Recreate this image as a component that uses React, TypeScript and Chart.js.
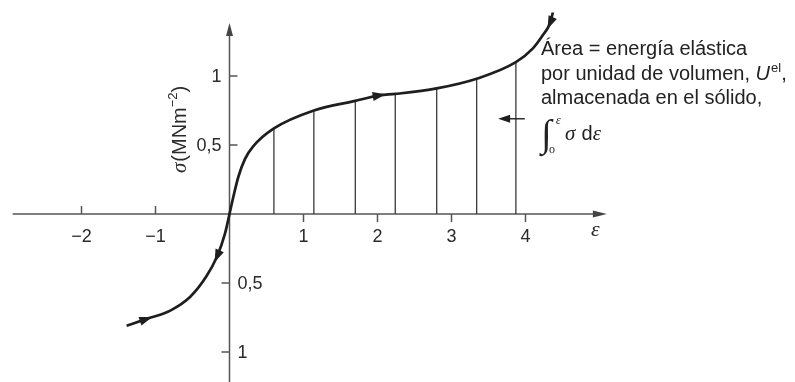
import React, { useEffect, useRef } from "react";
import { Chart, registerables } from "chart.js";

Chart.register(...registerables);

// Stress–strain curve (strain ε, stress σ in MN m⁻²)
const strain = [-1.39, -1.12, -0.8, -0.53, -0.31, -0.17, -0.06, 0, 0.05, 0.12, 0.21, 0.32, 0.6, 1.14, 1.7, 2.03, 2.24, 2.8, 3.34, 3.87, 4.1, 4.24, 4.33, 4.37];
const stress = [-0.81, -0.76, -0.7, -0.6, -0.45, -0.31, -0.14, 0, 0.12, 0.27, 0.4, 0.49, 0.62, 0.75, 0.82, 0.86, 0.87, 0.91, 0.98, 1.1, 1.2, 1.3, 1.38, 1.46];

// Vertical strips filling the area under the curve
const hatchStrain = [0.6, 1.14, 1.7, 2.24, 2.8, 3.34, 3.87];
const hatchStress = [0.62, 0.75, 0.82, 0.87, 0.91, 0.98, 1.1];

// Axis ticks
const xTicks = [-2, -1, 1, 2, 3, 4];
const xTickLabels = ["−2", "−1", "1", "2", "3", "4"];
const yTicks = [1, 0.5, -0.5, -1];
const yTickLabels = ["1", "0,5", "0,5", "1"];

// Direction arrows on the curve: point index and sense (+1 = towards larger strain)
const arrowIndex = [1, 5, 15, 22];
const arrowSense = [1, -1, 1, -1];

// Pointer into the shaded area
const pointerStrain = [3.99, 3.63];
const pointerStress = 0.69;

// Axis extents drawn
const xAxisFrom = -2.93;
const xAxisTo = 5.1;
const yAxisFrom = -1.22;
const yAxisTo = 1.384;

const SANS = "'Liberation Sans', Arial, Helvetica, sans-serif";
const SERIF = "'Liberation Serif', 'Times New Roman', serif";

function head(ctx: CanvasRenderingContext2D, x: number, y: number, ux: number, uy: number, len: number, half: number) {
  const bx = x - ux * len;
  const by = y - uy * len;
  ctx.beginPath();
  ctx.moveTo(x, y);
  ctx.lineTo(bx - uy * half, by + ux * half);
  ctx.lineTo(bx + uy * half, by - ux * half);
  ctx.closePath();
  ctx.fill();
}

const overlay = {
  id: "overlay",
  beforeDatasetsDraw(chart: any) {
    const ctx: CanvasRenderingContext2D = chart.ctx;
    const xs = chart.scales.x;
    const ys = chart.scales.y;
    const x0 = xs.getPixelForValue(0);
    const y0 = ys.getPixelForValue(0);
    ctx.save();
    ctx.strokeStyle = "#555";
    ctx.fillStyle = "#444";
    ctx.lineWidth = 1.5;

    // horizontal axis
    const xl = xs.getPixelForValue(xAxisFrom);
    const xr = xs.getPixelForValue(xAxisTo);
    ctx.beginPath();
    ctx.moveTo(xl, y0);
    ctx.lineTo(xr - 8, y0);
    ctx.stroke();
    head(ctx, xr, y0, 1, 0, 14, 3.5);

    // vertical axis
    const yt = ys.getPixelForValue(yAxisTo);
    const yb = ys.getPixelForValue(yAxisFrom);
    ctx.beginPath();
    ctx.moveTo(x0, yb);
    ctx.lineTo(x0, yt + 8);
    ctx.stroke();
    head(ctx, x0, yt, 0, -1, 13, 3.5);

    // x ticks
    ctx.fillStyle = "#2a2a2a";
    ctx.font = `18px ${SANS}`;
    ctx.textAlign = "center";
    ctx.textBaseline = "alphabetic";
    xTicks.forEach((v, i) => {
      const px = xs.getPixelForValue(v);
      ctx.beginPath();
      ctx.moveTo(px, y0);
      ctx.lineTo(px, v < 0 ? y0 - 8 : y0 + 8);
      ctx.stroke();
      ctx.fillText(xTickLabels[i], px, y0 + 28);
    });

    // y ticks
    ctx.textBaseline = "middle";
    yTicks.forEach((v, i) => {
      const py = ys.getPixelForValue(v);
      ctx.beginPath();
      ctx.moveTo(x0, py);
      ctx.lineTo(v > 0 ? x0 + 8 : x0 - 8, py);
      ctx.stroke();
      if (v > 0) {
        ctx.textAlign = "right";
        ctx.fillText(yTickLabels[i], x0 - 8, py + 1);
      } else {
        ctx.textAlign = "left";
        ctx.fillText(yTickLabels[i], x0 + 8, py + 1);
      }
    });

    // axis titles
    ctx.fillStyle = "#2a2a2a";
    ctx.textAlign = "left";
    ctx.textBaseline = "alphabetic";
    ctx.font = `italic 22px ${SERIF}`;
    ctx.fillText("ε", xs.getPixelForValue(xAxisTo) - 16, y0 + 22);

    ctx.save();
    ctx.translate(x0 - 44, y0 - 41);
    ctx.rotate(-Math.PI / 2);
    let cx = 0;
    ctx.font = `italic 21px ${SERIF}`;
    ctx.fillText("σ", cx, 0);
    cx += ctx.measureText("σ").width + 1;
    ctx.font = `20px ${SANS}`;
    ctx.fillText("(MNm", cx, 0);
    cx += ctx.measureText("(MNm").width;
    ctx.font = `13px ${SANS}`;
    ctx.fillText("−2", cx, -9);
    cx += ctx.measureText("−2").width;
    ctx.font = `20px ${SANS}`;
    ctx.fillText(")", cx, 0);
    ctx.restore();

    ctx.restore();
  },
  afterDatasetsDraw(chart: any) {
    const ctx: CanvasRenderingContext2D = chart.ctx;
    const xs = chart.scales.x;
    const ys = chart.scales.y;
    ctx.save();
    ctx.fillStyle = "#1e1e1e";

    // direction arrows on the curve
    arrowIndex.forEach((idx, k) => {
      const px = xs.getPixelForValue(strain[idx]);
      const py = ys.getPixelForValue(stress[idx]);
      const ax = xs.getPixelForValue(strain[idx - 1]);
      const ay = ys.getPixelForValue(stress[idx - 1]);
      const bx = xs.getPixelForValue(strain[idx + 1]);
      const by = ys.getPixelForValue(stress[idx + 1]);
      let ux = (bx - ax) * arrowSense[k];
      let uy = (by - ay) * arrowSense[k];
      const n = Math.hypot(ux, uy) || 1;
      ux /= n;
      uy /= n;
      head(ctx, px + ux * 6, py + uy * 6, ux, uy, 13, 4.5);
    });

    // pointer into the area
    const p1 = xs.getPixelForValue(pointerStrain[0]);
    const p2 = xs.getPixelForValue(pointerStrain[1]);
    const pyy = ys.getPixelForValue(pointerStress);
    ctx.strokeStyle = "#1e1e1e";
    ctx.lineWidth = 1.4;
    ctx.beginPath();
    ctx.moveTo(p1, pyy);
    ctx.lineTo(p2 + 8, pyy);
    ctx.stroke();
    head(ctx, p2, pyy, -1, 0, 12, 4);

    // annotation
    const tx = 541;
    ctx.fillStyle = "#222";
    ctx.textAlign = "left";
    ctx.textBaseline = "alphabetic";
    ctx.font = `20px ${SANS}`;
    ctx.fillText("Área = energía elástica", tx, 55);
    const l2 = "por unidad de volumen, ";
    ctx.fillText(l2, tx, 80);
    let cx = tx + ctx.measureText(l2).width;
    ctx.font = `italic 20px ${SANS}`;
    ctx.fillText("U", cx, 80);
    cx += ctx.measureText("U").width + 1;
    ctx.font = `13px ${SANS}`;
    ctx.fillText("el", cx, 72);
    cx += ctx.measureText("el").width;
    ctx.font = `20px ${SANS}`;
    ctx.fillText(",", cx, 80);
    ctx.fillText("almacenada en el sólido,", tx, 104);

    // ∫₀^ε σ dε
    ctx.font = `38px ${SERIF}`;
    ctx.fillText("∫", tx, 146);
    ctx.font = `italic 12px ${SERIF}`;
    ctx.fillText("ε", tx + 15, 124);
    ctx.font = `12px ${SERIF}`;
    ctx.fillText("o", tx + 8, 153);
    ctx.font = `italic 21px ${SERIF}`;
    ctx.fillText("σ", tx + 24, 140);
    let ix = tx + 24 + ctx.measureText("σ ").width + 1;
    ctx.font = `20px ${SANS}`;
    ctx.fillText("d", ix, 140);
    ix += ctx.measureText("d").width;
    ctx.font = `italic 21px ${SERIF}`;
    ctx.fillText("ε", ix, 140);

    ctx.restore();
  },
};

export default function App() {
  const canvasRef = useRef<HTMLCanvasElement>(null);

  useEffect(() => {
    const canvas = canvasRef.current;
    if (!canvas) return;
    const curve = strain.map((x, i) => ({ x, y: stress[i] }));
    const strips = hatchStrain.map((x, i) => ({
      data: [
        { x, y: 0 },
        { x, y: hatchStress[i] },
      ],
      borderColor: "#3a3a3a",
      borderWidth: 1.3,
      pointRadius: 0,
      fill: false,
    }));
    const chart = new Chart(canvas, {
      type: "line",
      data: {
        datasets: [
          {
            data: curve,
            borderColor: "#1e1e1e",
            borderWidth: 2.7,
            pointRadius: 0,
            fill: false,
            cubicInterpolationMode: "monotone",
          },
          ...strips,
        ],
      } as any,
      options: {
        animation: false,
        responsive: false,
        events: [],
        layout: { padding: 0 },
        plugins: { legend: { display: false }, tooltip: { enabled: false } },
        scales: {
          x: { type: "linear", min: -229.5 / 74, max: (795 - 229.5) / 74, display: false },
          y: { type: "linear", min: -168 / 138, max: 214 / 138, display: false },
        },
      },
      plugins: [overlay],
    });
    return () => chart.destroy();
  }, []);

  return (
    <div style={{ position: "fixed", left: 0, top: 0, width: 795, height: 382, background: "#fff" }}>
      <canvas ref={canvasRef} width={795} height={382} style={{ display: "block" }} />
    </div>
  );
}
